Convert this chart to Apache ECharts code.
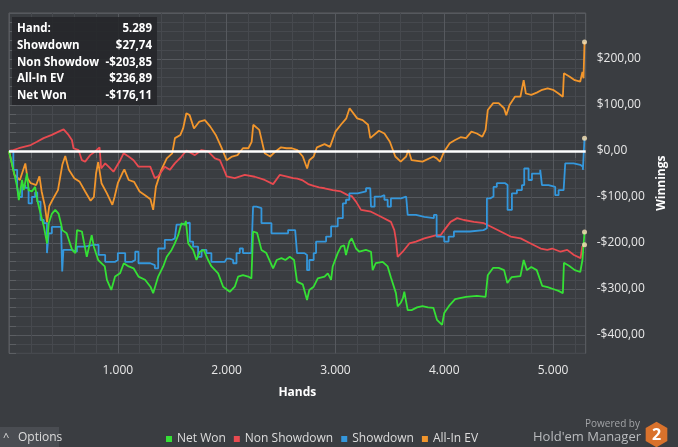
<!DOCTYPE html>
<html><head><meta charset="utf-8">
<script src="https://cdn.jsdelivr.net/npm/echarts@6/dist/echarts.min.js"></script>
<style>html,body{margin:0;padding:0;background:#3a3d41;}#c{width:678px;height:447px;}</style>
</head><body><div id="c"></div>
<script>
// ---- data (hands, cumulative winnings in $) ----
const netWonHands = [0,40,75,90,120,135,165,180,210,240,260,290,320,350,365,395,425,455,480,489,500,530,580,610,625,670,715,760,780,820,880,900,940,975,1020,1055,1100,1145,1190,1250,1300,1325,1340,1371,1417,1450,1494,1524,1555,1585,1616,1625,1647,1692,1723,1754,1790,1830,1861,1922,1968,2029,2075,2106,2150,2198,2228,2243,2280,2320,2365,2427,2460,2504,2540,2580,2620,2647,2700,2739,2760,2800,2838,2900,2930,2960,2975,3021,3051,3080,3097,3128,3150,3189,3220,3280,3327,3342,3370,3434,3480,3510,3556,3572,3600,3620,3633,3664,3700,3750,3800,3850,3900,3933,3980,4000,4050,4100,4200,4300,4380,4400,4450,4500,4550,4580,4620,4700,4730,4760,4800,4850,4900,4950,5000,5050,5090,5100,5150,5200,5250,5270,5289];
const netWonValues = [0,-41,-78,-107,-63,-85,-49,-85,-88,-78,-107,-136,-164,-201,-157,-136,-128,-136,-160,-172,-172,-179,-215,-222,-172,-175,-230,-183,-208,-237,-251,-280,-302,-273,-266,-244,-251,-255,-273,-280,-295,-309,-312,-273,-251,-230,-215,-201,-183,-157,-161,-152,-201,-215,-237,-219,-215,-237,-251,-266,-295,-306,-295,-273,-270,-273,-277,-175,-178,-215,-222,-255,-237,-233,-237,-230,-237,-284,-290,-324,-302,-295,-277,-273,-266,-280,-251,-222,-208,-205,-226,-197,-190,-212,-219,-215,-219,-259,-244,-241,-251,-275,-309,-338,-330,-320,-306,-346,-346,-340,-337,-340,-341,-367,-378,-352,-335,-322,-317,-315,-317,-270,-254,-254,-259,-287,-274,-272,-237,-259,-252,-259,-293,-296,-300,-304,-309,-243,-250,-259,-263,-237,-176.11];

const nonShowdownHands = [0,40,90,200,257,318,394,456,502,547,578,593,639,670,700,746,792,832,847,884,915,960,1022,1053,1099,1145,1190,1298,1340,1371,1432,1478,1524,1585,1631,1708,1769,1830,1892,1938,1983,2000,2075,2167,2259,2350,2427,2488,2565,2611,2650,2700,2750,2800,2850,2900,2975,3050,3113,3150,3189,3235,3327,3419,3510,3541,3556,3572,3618,3679,3740,3817,3878,3930,3966,4000,4058,4119,4180,4273,4365,4426,4518,4610,4702,4794,4886,4947,4992,5069,5130,5192,5253,5268,5289];
const nonShowdownValues = [0,2,6,13,20,28,35,42,47,35,24,6,2,-20,-23,-9,-1,8,-38,-27,-34,-45,-20,-5,-12,-20,-34,-34,-59,-55,-34,-41,-27,-12,1,-9,2,-1,-16,-20,-45,-55,-59,-52,-56,-63,-72,-52,-56,-59,-60,-64,-72,-76,-79,-81,-85,-88,-96,-98,-110,-128,-132,-143,-154,-172,-193,-230,-219,-201,-197,-190,-186,-183,-183,-172,-154,-146,-150,-154,-157,-164,-175,-186,-190,-201,-212,-215,-212,-219,-215,-226,-233,-208,-203.85];

const showdownHands = [0,40,75,90,120,150,180,210,240,260,290,320,349,364,394,456,480,489,500,532,578,624,700,777,823,884,976,1000,1037,1068,1130,1160,1190,1250,1298,1340,1371,1400,1432,1500,1524,1540,1585,1631,1662,1692,1738,1770,1815,1860,1983,2000,2030,2060,2091,2121,2150,2228,2243,2275,2320,2412,2504,2565,2630,2647,2715,2739,2760,2800,2822,2880,2914,2960,3021,3068,3097,3128,3204,3281,3320,3327,3360,3419,3450,3480,3510,3602,3650,3664,3740,3817,3905,3930,4000,4040,4089,4170,4236,4361,4392,4422,4453,4483,4560,4582,4622,4668,4714,4735,4775,4806,4882,4898,4959,5020,5051,5097,5112,5189,5250,5274,5289];
const showdownValues = [0,-41,-78,-100,-75,-80,-114,-100,-90,-110,-150,-157,-222,-179,-165,-165,-179,-262,-215,-215,-219,-208,-204,-204,-226,-241,-237,-222,-222,-241,-237,-219,-244,-244,-248,-255,-212,-212,-193,-190,-186,-160,-157,-156,-197,-208,-230,-215,-222,-241,-241,-234,-237,-244,-222,-212,-222,-222,-121,-124,-157,-179,-179,-172,-172,-222,-226,-259,-237,-222,-197,-197,-186,-164,-146,-114,-106,-92,-88,-81,-81,-121,-99,-96,-106,-121,-103,-99,-103,-139,-143,-146,-139,-186,-197,-186,-175,-175,-172,-168,-103,-99,-78,-70,-74,-128,-92,-85,-74,-38,-63,-49,-41,-74,-78,-96,-85,-85,-27,-30,-34,-41,27.74];

const allInEvHands = [0,50,100,150,170,200,250,280,300,330,350,370,400,450,490,517,550,600,650,700,750,780,800,820,850,900,950,970,1000,1040,1060,1100,1150,1200,1250,1300,1325,1350,1400,1450,1500,1525,1575,1600,1630,1660,1700,1750,1800,1850,1900,1950,2000,2050,2100,2150,2200,2230,2245,2300,2350,2400,2450,2500,2550,2600,2650,2700,2740,2760,2800,2830,2900,2950,3000,3050,3100,3130,3200,3250,3300,3320,3400,3450,3500,3550,3600,3650,3670,3700,3800,3900,3930,3960,4000,4050,4100,4150,4200,4250,4300,4350,4380,4400,4450,4500,4550,4570,4600,4650,4700,4730,4750,4800,4850,4900,4950,5000,5050,5090,5100,5150,5200,5250,5270,5280,5289];
const allInEvValues = [0,-52,-63,-27,-60,-70,-74,-55,-88,-120,-155,-120,-106,-85,-30,-11,-41,-59,-67,-88,-108,-100,-49,-24,-70,-92,-117,-100,-70,-49,-40,-63,-67,-88,-96,-105,-128,-78,-41,-16,-5,28,35,49,82,78,49,64,67,53,35,9,-20,-12,-9,6,6,20,57,46,-5,-12,-1,8,6,6,2,-12,-38,-20,-12,8,15,9,42,57,71,93,71,67,57,28,44,38,20,-12,-23,-12,2,-20,-23,-12,-16,-23,-1,17,24,30,28,42,38,31,46,89,104,104,93,78,100,118,118,154,125,122,127,133,136,133,125,118,169,162,154,151,172,158,236.89];

const seriesNames = ['Net Won','Non Showdown','Showdown','All-In EV'];
const seriesColors = ['#35e035','#e84a50','#3497dc','#f2962c'];
const xTickLabelsEvery = 1000;
const yTickLabelsEvery = 100;

// ---- helpers ----
function pairs(h, v){ return h.map((x,i)=>[x, v[i]]); }
function money(v){
  const s = Math.abs(v).toFixed(2).replace('.', ',');
  return (v < 0 ? '-$' : '$') + s;
}
function thousands(n){ return String(n).replace(/\B(?=(\d{3})+(?!\d))/g, '.'); }

const allHands = [netWonHands, nonShowdownHands, showdownHands, allInEvHands];
const allValues = [netWonValues, nonShowdownValues, showdownValues, allInEvValues];
const last = a => a[a.length-1];

const chart = echarts.init(document.getElementById('c'), null, {renderer:'canvas'});
const FONT = 'Open Sans';
const minor = '#46494e', major = '#56595e';

const lineSeries = seriesNames.map((name,i)=>({
  name, type:'line', showSymbol:false, silent:true,
  step: name === 'Showdown' ? 'end' : false,
  data: pairs(allHands[i], allValues[i]),
  lineStyle:{width:1.8, color:seriesColors[i]},
  itemStyle:{color:seriesColors[i]},
  z: [5,3,4,2][i]
}));
// white zero line
lineSeries[3].markLine = {
  silent:true, symbol:['none','none'], label:{show:false},
  lineStyle:{color:'#ffffff', width:2.5, type:'solid'},
  data:[{yAxis:0}], z:10
};
const endPoints = {
  type:'scatter', silent:true, symbolSize:5, z:12,
  itemStyle:{color:'#fbe6b8'},
  data: allHands.map((h,i)=>[last(h), last(allValues[i])])
};

// tooltip-like info box
const rows = [
  ['Hand:', thousands(last(netWonHands))],
  ['Showdown', money(last(showdownValues))],
  ['Non Showdown', money(last(nonShowdownValues))],
  ['All-In EV', money(last(allInEvValues))],
  ['Net Won', money(last(netWonValues))]
];
const rowY = [29, 45.7, 62.3, 79, 96];
const boxEls = [{type:'rect', z:100, shape:{x:12,y:17,width:145,height:88}, style:{fill:'rgba(36,38,41,0.88)'}}];
rows.forEach((r,i)=>{
  boxEls.push({type:'text', z:101, x:17, y:rowY[i], style:{text:r[0], fill:'#ffffff', font:'bold 11.5px "'+FONT+'"', verticalAlign:'middle', width:84, overflow:'truncate', ellipsis:''}});
  boxEls.push({type:'text', z:101, x:152, y:rowY[i], style:{text:r[1], fill:'#ffffff', font:'bold 11.5px "'+FONT+'"', align:'right', verticalAlign:'middle'}});
});

// hexagon logo
const hex = [];
for (let k=0;k<6;k++){ const a = Math.PI/180*(-90+60*k); hex.push([656.5+12.5*Math.cos(a), 434.5+12.8*Math.sin(a)]); }

chart.setOption({
  backgroundColor:'#3a3d41',
  animation:false,
  textStyle:{fontFamily:FONT},
  grid:{left:9, right:92.3, top:13, bottom:93.6, show:true, borderColor:'#5c5f63', borderWidth:1, backgroundColor:'transparent'},
  legend:{
    left:161, top:428, itemWidth:6, itemHeight:6, itemGap:8, icon:'rect',
    data:seriesNames, textStyle:{color:'#dddddd', fontSize:12, fontFamily:FONT}
  },
  xAxis:{
    type:'value', min:0, max:5300, interval:1000,
    name:'Hands', nameLocation:'middle', nameGap:33,
    nameTextStyle:{color:'#ffffff', fontWeight:'bold', fontSize:12},
    axisLine:{show:false},
    axisTick:{show:true, length:7, lineStyle:{color:'#5c5f63'}},
    minorTick:{show:true, splitNumber:5, length:7, lineStyle:{color:'#5c5f63'}},
    axisLabel:{color:'#e8e8e8', fontSize:12, margin:11, showMaxLabel:false, showMinLabel:false,
      formatter:v=> (v>0 && v%xTickLabelsEvery===0) ? thousands(v) : ''},
    splitLine:{show:true, lineStyle:{color:major, width:1}},
    minorSplitLine:{show:true, lineStyle:{color:minor, width:1}}
  },
  yAxis:{
    type:'value', position:'right', min:-440, max:300, interval:20,
    name:'Winnings', nameLocation:'middle', nameGap:64, nameRotate:90,
    nameTextStyle:{color:'#ffffff', fontWeight:'bold', fontSize:12},
    axisLine:{show:false},
    axisTick:{show:true, length:7, lineStyle:{color:'#5c5f63'}},
    axisLabel:{color:'#e8e8e8', fontSize:12, margin:11, showMaxLabel:false,
      formatter:v=> (v % yTickLabelsEvery === 0 && v < 300) ? money(v) : ''},
    splitLine:{show:true, lineStyle:{color:[minor,minor,major,minor,minor], width:1}}
  },
  series:[...lineSeries, endPoints],
  graphic:[
    ...boxEls,
    {type:'rect', z:100, shape:{x:0,y:427,width:59,height:20}, style:{fill:'#4a4d52'}},
    {type:'text', z:101, x:3, y:438, style:{text:'^', fill:'#dddddd', font:'11px "'+FONT+'"', verticalAlign:'middle'}},
    {type:'text', z:101, x:18, y:438, style:{text:'Options', fill:'#dddddd', font:'12px "'+FONT+'"', verticalAlign:'middle'}},
    {type:'text', z:101, x:640, y:424, style:{text:'Powered by', fill:'#a2a4a7', font:'10px "'+FONT+'"', align:'right', verticalAlign:'middle'}},
    {type:'text', z:101, x:641, y:437, style:{text:"Hold'em Manager", fill:'#b9bbbe', font:'13px "'+FONT+'"', align:'right', verticalAlign:'middle'}},
    {type:'polygon', z:100, shape:{points:hex}, style:{fill:'#d9722c'}},
    {type:'text', z:101, x:656.5, y:435, style:{text:'2', fill:'#ffffff', font:'bold 16px "'+FONT+'"', align:'center', verticalAlign:'middle'}}
  ]
});
</script></body></html>
